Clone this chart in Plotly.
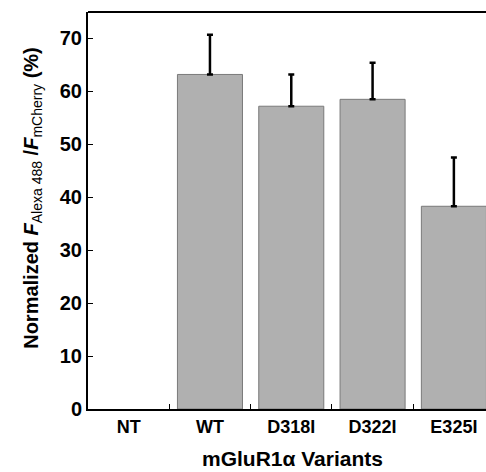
import plotly.graph_objects as go

categories = ["NT", "WT", "D318I", "D322I", "E325I"]
values = [0, 63.2, 57.2, 58.5, 38.3]
errors = [0, 7.5, 6.0, 6.9, 9.2]
y_ticks = [0, 10, 20, 30, 40, 50, 60, 70]

fig = go.Figure()
# NT has no measurable signal: drawn without an error bar
fig.add_trace(go.Bar(
    x=categories[:1], y=values[:1],
    marker=dict(color="#b0b0b0", line=dict(width=0)),
    width=0.8,
))
fig.add_trace(go.Bar(
    x=categories[1:], y=values[1:],
    marker=dict(color="#b0b0b0", line=dict(color="#7a7a7a", width=1)),
    width=0.8,
    error_y=dict(type="data", symmetric=False, array=errors[1:],
                 arrayminus=[0]*len(errors[1:]), color="black", thickness=2.5, width=3,
                 visible=True),
))

font = "Liberation Sans, Arial, sans-serif"
fig.update_layout(
    width=486, height=472,
    margin=dict(l=88, r=0, t=12, b=63),
    plot_bgcolor="white", paper_bgcolor="white",
    showlegend=False, barmode="overlay",
    font=dict(family=font, color="black", size=16),
    xaxis=dict(
        type="category", range=[-0.5, 4.395], categoryorder="array", categoryarray=categories,
        showline=True, linecolor="black", linewidth=2, mirror=False, automargin=False,
        ticks="inside", tickson="boundaries", ticklen=5, tickcolor="black", tickwidth=1,
        tickfont=dict(size=18, family=font, weight="bold"),
        showgrid=False,
    ),
    yaxis=dict(
        range=[0, 75], tickvals=y_ticks, automargin=False,
        showline=True, linecolor="black", linewidth=2,
        ticks="inside", ticklen=5, tickcolor="black", tickwidth=1,
        tickfont=dict(size=20, family=font, weight="bold"),
        showgrid=False, zeroline=False,
    ),
    shapes=[dict(type="line", xref="paper", yref="paper", x0=0, x1=1, y0=1, y1=1,
                 line=dict(color="black", width=2))],
    annotations=[
        dict(text="mGluR1α Variants", xref="paper", yref="paper", x=0.5126, y=-0.124,
             xanchor="center", yanchor="middle", showarrow=False,
             font=dict(size=21, family=font, weight="bold")),
        dict(text="<b>Normalized <i>F</i></b><sub>Alexa 488</sub><b> /<i>F</i></b><sub>mCherry</sub><b> (%)</b>",
             xref="paper", yref="paper", x=-0.14, y=0.5327, textangle=-90,
             xanchor="center", yanchor="middle", showarrow=False,
             font=dict(size=20, family=font)),
    ],
)
fig.write_html("out.html", config={"displayModeBar": False},
               post_script="document.body.style.margin='0';")
